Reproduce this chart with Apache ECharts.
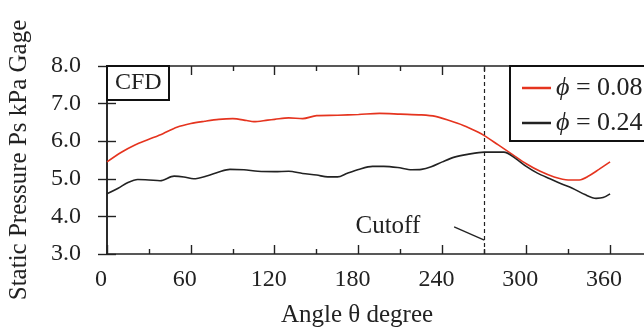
<!DOCTYPE html>
<html>
<head>
<meta charset="utf-8">
<script src="https://cdn.jsdelivr.net/npm/echarts@6/dist/echarts.min.js"></script>
<style>html,body{margin:0;padding:0;background:#fff}#c{width:644px;height:333px}</style>
</head>
<body>
<div id="c"></div>
<script>
// ---- data ----
const anglesRed = [0,10,20,30,40,50,60,70,80,90,100,105,115,120,130,140,150,165,180,195,210,225,235,245,255,265,270,280,290,300,310,320,330,338,345,352,360];
const pressRed  = [5.45,5.7,5.9,6.05,6.2,6.37,6.47,6.53,6.58,6.6,6.55,6.52,6.56,6.58,6.62,6.6,6.68,6.69,6.71,6.74,6.72,6.7,6.66,6.55,6.42,6.25,6.15,5.9,5.65,5.4,5.2,5.05,4.97,4.97,5.08,5.25,5.45];
const anglesBlack = [0,8,15,22,30,38,48,55,62,72,80,88,98,108,120,130,140,150,158,165,172,180,190,198,208,218,225,232,240,248,258,270,284,292,300,308,317,325,333,342,350,355,360];
const pressBlack  = [4.6,4.75,4.9,4.98,4.97,4.95,5.07,5.05,5.0,5.08,5.18,5.25,5.24,5.2,5.19,5.2,5.14,5.1,5.05,5.05,5.15,5.25,5.33,5.33,5.3,5.24,5.25,5.32,5.45,5.57,5.65,5.71,5.71,5.55,5.33,5.15,5.0,4.87,4.75,4.58,4.48,4.5,4.6];
const seriesNames = ['ϕ = 0.08', 'ϕ = 0.24'];
const xTickLabels = [0,60,120,180,240,300,360];
const cutoffAngle = 270;

const FONT = 'Liberation Serif';
const INK = '#222';
const chart = echarts.init(document.getElementById('c'));

const tickStyle = {color: INK, width: 1.4};
const xMain = {
  type: 'value', min: 0, max: 390, interval: 60,
  axisLine: {show: true, lineStyle: {color: INK, width: 1.6}},
  axisTick: {show: true, inside: true, length: 9, lineStyle: tickStyle},
  minorTick: {show: true, splitNumber: 2, length: 5, lineStyle: tickStyle},
  axisLabel: {show: true, margin: 14, fontFamily: FONT, fontSize: 24, color: INK,
    formatter: v => xTickLabels.indexOf(v) >= 0 ? v + '\u2002' : ''},
  splitLine: {show: false}, minorSplitLine: {show: false},
  name: 'Angle θ degree', nameLocation: 'middle', nameGap: 49,
  nameTextStyle: {fontFamily: FONT, fontSize: 25, color: INK, padding: [0, 45, 0, 0]}
};
const xTop = {
  type: 'value', position: 'top', min: 0, max: 390, interval: 60,
  axisLine: {show: true, lineStyle: {color: INK, width: 1.6}},
  axisTick: {show: true, inside: true, length: 9, lineStyle: tickStyle},
  minorTick: {show: true, splitNumber: 2, length: 5, lineStyle: tickStyle},
  axisLabel: {show: false},
  splitLine: {show: false}, minorSplitLine: {show: false}
};
const yMain = {
  type: 'value', min: 3, max: 8, interval: 1,
  axisLine: {show: true, lineStyle: {color: INK, width: 1.6}},
  axisTick: {show: true, inside: true, length: 9, lineStyle: tickStyle},
  axisLabel: {show: true, margin: 26, fontFamily: FONT, fontSize: 24, color: INK, formatter: v => v.toFixed(1)},
  splitLine: {show: false},
  name: 'Static Pressure Ps kPa Gage', nameLocation: 'middle', nameGap: 75, nameRotate: 90,
  nameTextStyle: {fontFamily: FONT, fontSize: 25, color: INK}
};
const yRight = {
  type: 'value', position: 'right', min: 3, max: 8, interval: 1,
  axisLine: {show: true, lineStyle: {color: INK, width: 1.6}},
  axisTick: {show: true, inside: true, length: 9, lineStyle: tickStyle},
  axisLabel: {show: false},
  splitLine: {show: false}
};

const option = {
  backgroundColor: '#fff',
  animation: false,
  title: {
    text: 'CFD', left: 107, top: 66,
    borderColor: '#111', borderWidth: 2, padding: [5, 8, 5, 8], backgroundColor: '#fff',
    textStyle: {fontFamily: FONT, fontSize: 24, fontWeight: 'normal', color: INK, lineHeight: 24}
  },
  legend: {
    left: 510, top: 66, orient: 'vertical',
    borderColor: '#111', borderWidth: 2, padding: [9, 20, 5, 12], itemGap: 9,
    icon: 'rect', itemWidth: 29, itemHeight: 2.5,
    backgroundColor: '#fff',
    data: seriesNames,
    formatter: n => n.replace('ϕ', '{i|ϕ}'),
    textStyle: {fontFamily: FONT, fontSize: 26, color: INK,
      rich: {i: {fontFamily: FONT, fontSize: 26, fontStyle: 'italic', color: INK}}}
  },
  grid: {left: 107, top: 66, width: 545, height: 188, outerBoundsMode: 'none'},
  xAxis: [xMain, xTop],
  yAxis: [yMain, yRight],
  series: [
    {
      name: seriesNames[0], type: 'line', xAxisIndex: 0, yAxisIndex: 0,
      data: anglesRed.map((a, i) => [a, pressRed[i]]),
      smooth: 0.3, showSymbol: false, symbol: 'none',
      lineStyle: {color: '#e5341f', width: 1.6}, itemStyle: {color: '#e5341f'},
      markLine: {
        silent: true, symbol: ['none', 'none'], label: {show: false},
        lineStyle: {color: INK, type: [4, 3], width: 1.2},
        data: [
          {xAxis: cutoffAngle},
          [{coord: [248.4, 3.72], lineStyle: {type: 'solid', width: 1.3, color: INK}}, {coord: [cutoffAngle, 3.37]}]
        ]
      },
      markPoint: {
        silent: true, symbol: 'circle', symbolSize: 0,
        data: [{coord: [201, 3.72], label: {show: true, formatter: 'Cutoff', position: 'inside', fontFamily: FONT, fontSize: 25, color: INK}}]
      }
    },
    {
      name: seriesNames[1], type: 'line', xAxisIndex: 0, yAxisIndex: 0,
      data: anglesBlack.map((a, i) => [a, pressBlack[i]]),
      smooth: 0.3, showSymbol: false, symbol: 'none',
      lineStyle: {color: '#222', width: 1.6}, itemStyle: {color: '#222'}
    }
  ]
};
chart.setOption(option);
</script>
</body>
</html>
